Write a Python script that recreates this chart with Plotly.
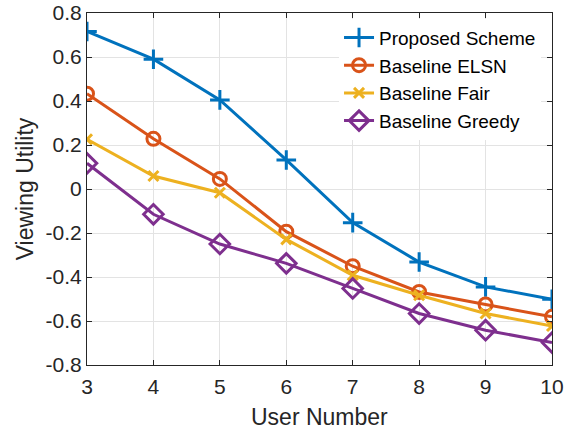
import plotly.graph_objects as go

users = [3, 4, 5, 6, 7, 8, 9, 10]
proposed = [0.716, 0.590, 0.405, 0.132, -0.153, -0.332, -0.445, -0.501]
elsn = [0.433, 0.228, 0.046, -0.194, -0.351, -0.468, -0.525, -0.581]
fair = [0.226, 0.059, -0.017, -0.229, -0.392, -0.483, -0.566, -0.623]
greedy = [0.117, -0.115, -0.250, -0.338, -0.452, -0.566, -0.642, -0.698]

y_ticks = [0.8, 0.6, 0.4, 0.2, 0, -0.2, -0.4, -0.6, -0.8]
y_tick_text = ["0.8", "0.6", "0.4", "0.2", "0", "-0.2", "-0.4", "-0.6", "-0.8"]

series = [
    ("Proposed Scheme", proposed, "#0072BD", "cross-thin", 14),
    ("Baseline ELSN", elsn, "#D95319", "circle-open", 13),
    ("Baseline Fair", fair, "#EDB120", "x-thin", 10),
    ("Baseline Greedy", greedy, "#7E2F8E", "diamond-open", 15),
]

FONT = "Liberation Sans, Arial"

fig = go.Figure()
for name, vals, color, sym, size in series:
    fig.add_trace(go.Scatter(
        x=users, y=vals, name=name, mode="lines+markers",
        line=dict(color=color, width=3),
        marker=dict(symbol=sym, size=size, color=color,
                    line=dict(color=color, width=3)),
    ))

axis_common = dict(
    showline=True, linecolor="#262626", linewidth=1, mirror="ticks",
    ticks="inside", ticklen=5, tickcolor="#262626",
    showgrid=True, gridcolor="#e3e3e3", gridwidth=1,
    zeroline=False, automargin=False,
    tickfont=dict(family=FONT, size=21, color="#262626"),
)

fig.update_xaxes(
    range=[3, 10], tickvals=users, ticktext=[str(u) for u in users],
    ticklabelstandoff=3,
    **axis_common,
)
fig.update_yaxes(
    range=[-0.8, 0.8], tickvals=y_ticks, ticktext=y_tick_text,
    title=dict(text="Viewing Utility", standoff=5,
               font=dict(family=FONT, size=23, color="#262626")),
    **axis_common,
)

# x-axis label placed below the tick labels
fig.add_annotation(
    text="User Number", xref="paper", yref="paper",
    x=0.5, y=-0.148, xanchor="center", yanchor="middle",
    showarrow=False, font=dict(family=FONT, size=23, color="#262626"),
)

fig.update_layout(
    width=571, height=430,
    margin=dict(l=87, r=19, t=13, b=65),
    plot_bgcolor="white", paper_bgcolor="white",
    legend=dict(
        x=0.542, y=0.984, xanchor="left", yanchor="top",
        bgcolor="white", borderwidth=0,
        font=dict(family=FONT, size=19, color="black"),
        tracegroupgap=0, itemwidth=30,
    ),
)

fig.write_html("out.html")
